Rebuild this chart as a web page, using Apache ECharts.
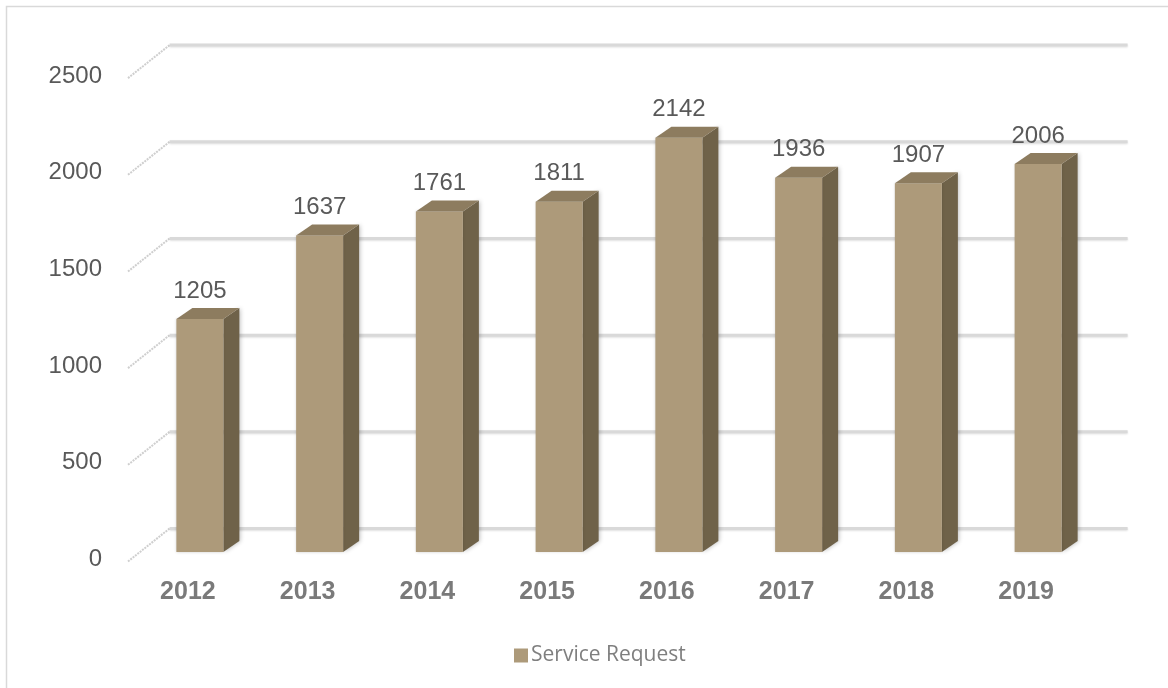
<!DOCTYPE html>
<html>
<head>
<meta charset="utf-8">
<script src="https://cdn.jsdelivr.net/npm/echarts@6/dist/echarts.min.js"></script>
<style>
html,body{margin:0;padding:0;background:#fff;}
#chart{width:1168px;height:688px;}
</style>
</head>
<body>
<div id="chart"></div>
<script>
const categories = ['2012','2013','2014','2015','2016','2017','2018','2019'];
const serviceRequest = [1205, 1637, 1761, 1811, 2142, 1936, 1907, 2006];
const yTicks = [0, 500, 1000, 1500, 2000, 2500];
const seriesName = 'Service Request';

const BACK = [29.6, -23.5];
const FRONT = [-12, 9.5];
const DEPTH = [16, -11];
const BAR_W = 47;
const FRONT_COLOR = '#ad9a7a';
const SIDE_COLOR = '#6f6249';
const TOP_COLOR = '#8d7c5f';

const chart = echarts.init(document.getElementById('chart'), null, {renderer: 'canvas'});

function gridRender(params, api) {
  const cs = params.coordSys;
  const x0 = cs.x, x1 = cs.x + cs.width;
  const v = api.value(1);
  const y = api.coord([0, v])[1];
  return {
    type: 'group',
    children: [
      {
        type: 'line',
        shape: {x1: x0 + FRONT[0], y1: y + FRONT[1], x2: x0 + BACK[0], y2: y + BACK[1]},
        style: {stroke: '#cfcfcf', lineWidth: 2, lineDash: [2, 1]}
      },
      {
        type: 'line',
        shape: {x1: x0 + BACK[0], y1: y + BACK[1], x2: x1 + BACK[0], y2: y + BACK[1]},
        style: {stroke: '#d9d9d9', lineWidth: 3, shadowBlur: 2, shadowColor: 'rgba(0,0,0,0.12)', shadowOffsetY: 1}
      },
      {
        type: 'text',
        style: {
          x: x0 - 38, y: y + 7.5,
          text: String(v),
          fill: '#595959',
          font: '24px "Liberation Sans", Arial, sans-serif',
          align: 'right', verticalAlign: 'middle'
        }
      }
    ]
  };
}

function barRender(params, api) {
  const i = api.value(0);
  const v = api.value(1);
  const top = api.coord([i, v]);
  const base = api.coord([i, 0]);
  const cx = top[0];
  const L = cx - BAR_W / 2, R = cx + BAR_W / 2;
  const T = top[1], B = base[1];
  const dx = DEPTH[0], dy = DEPTH[1];
  return {
    type: 'group',
    children: [
      {
        type: 'polygon',
        shape: {points: [[R, T], [R + dx, T + dy], [R + dx, B + dy], [R, B]]},
        style: {fill: SIDE_COLOR, shadowBlur: 4, shadowColor: 'rgba(0,0,0,0.25)', shadowOffsetX: 1}
      },
      {
        type: 'rect',
        shape: {x: L, y: T, width: BAR_W, height: B - T},
        style: {fill: FRONT_COLOR, shadowBlur: 3, shadowColor: 'rgba(0,0,0,0.2)'}
      },
      {
        type: 'polygon',
        shape: {points: [[L, T], [R, T], [R + dx, T + dy], [L + dx, T + dy]]},
        style: {fill: TOP_COLOR}
      },
      {
        type: 'text',
        style: {
          x: cx, y: T - 28,
          text: String(v),
          fill: '#595959',
          font: '24px "Liberation Sans", Arial, sans-serif',
          align: 'center', verticalAlign: 'middle'
        }
      }
    ]
  };
}

const option = {
  backgroundColor: '#ffffff',
  animation: false,
  graphic: [{
    type: 'rect',
    shape: {x: 6.5, y: 6.5, width: 1180, height: 700},
    style: {fill: 'none', stroke: '#d9d9d9', lineWidth: 1.5},
    silent: true,
    z: -10
  }],
  grid: {left: 140, right: 70, top: 68.6, bottom: 136, containLabel: false},
  legend: {
    data: [{name: seriesName, itemStyle: {color: FRONT_COLOR}}],
    left: 509, top: 640,
    icon: 'rect', itemWidth: 14, itemHeight: 14, itemGap: 10,
    textStyle: {color: '#7f7f7f', fontSize: 21, fontFamily: '"Open Sans", sans-serif', padding: [0, 0, 0, -2]}
  },
  xAxis: {
    type: 'category',
    data: categories,
    axisLine: {show: false},
    axisTick: {show: false},
    splitLine: {show: false},
    axisLabel: {
      margin: 28,
      color: '#7a7a7a',
      fontSize: 25,
      fontWeight: 'bold',
      fontFamily: '"Liberation Sans", Arial, sans-serif',
      padding: [0, 24, 0, 0]
    }
  },
  yAxis: {
    type: 'value',
    min: 0, max: 2500, interval: 500,
    axisLine: {show: false},
    axisTick: {show: false},
    splitLine: {show: false},
    axisLabel: {show: false}
  },
  series: [
    {
      type: 'custom',
      name: 'grid',
      renderItem: gridRender,
      data: yTicks.map(t => [0, t]),
      encode: {x: 0, y: 1},
      silent: true,
      z: 1
    },
    {
      type: 'custom',
      name: seriesName,
      renderItem: barRender,
      data: serviceRequest.map((v, i) => [i, v]),
      encode: {x: 0, y: 1},
      itemStyle: {color: FRONT_COLOR},
      z: 5
    }
  ]
};
chart.setOption(option);
</script>
</body>
</html>
